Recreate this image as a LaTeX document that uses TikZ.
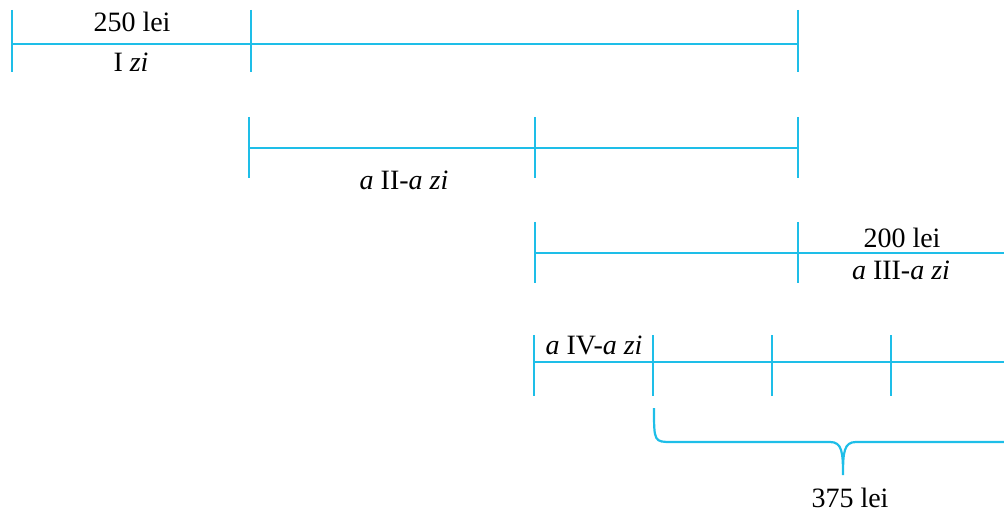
\documentclass[tikz,border=0pt]{standalone}
\usepackage{fontspec}
\setmainfont{Liberation Serif}
\definecolor{seg}{RGB}{30,190,232}
\begin{document}
\begin{tikzpicture}[x=1pt,y=-1pt,
  seg/.style={draw=seg,line width=2.6pt},
  lbl/.style={inner sep=0pt,anchor=center,font=\fontsize{28}{30}\selectfont}]
\useasboundingbox (0,0) rectangle (1004,513);
% row 1
\coordinate (a1) at (12,44); \coordinate (a2) at (251,44); \coordinate (a3) at (798,44);
\draw[seg] (a1) -- (a3);
\foreach \p in {a1,a2,a3} \draw[seg] ([yshift=34pt]\p) -- ([yshift=-28pt]\p);
\node[lbl] (t250) at (132,22) {250 lei};
\node[lbl] (tI) at (131,62) {I \textit{zi}};
% row 2
\coordinate (b1) at (249,148); \coordinate (b2) at (535,148); \coordinate (b3) at (798,148);
\draw[seg] (b1) -- (b3);
\foreach \p in {b1,b2,b3} \draw[seg] ([yshift=31pt]\p) -- ([yshift=-30pt]\p);
\node[lbl] (tII) at (404,180) {\textit{a} II-\textit{a zi}};
% row 3
\coordinate (c1) at (535,253); \coordinate (c2) at (798,253); \coordinate (c3) at (1004,253);
\draw[seg] (c1) -- (c3);
\foreach \p in {c1,c2} \draw[seg] ([yshift=31pt]\p) -- ([yshift=-30pt]\p);
\node[lbl] (t200) at (902,238) {200 lei};
\node[lbl] (tIII) at (901,270) {\textit{a} III-\textit{a zi}};
% row 4
\coordinate (d1) at (534,362); \coordinate (d2) at (653,362); \coordinate (d3) at (772,362);
\coordinate (d4) at (891,362); \coordinate (d5) at (1004,362);
\draw[seg] (d1) -- (d5);
\foreach \p in {d1,d2,d3,d4} \draw[seg] ([yshift=27pt]\p) -- ([yshift=-34pt]\p);
\node[lbl] (tIV) at (594,345) {\textit{a} IV-\textit{a zi}};
% brace
\coordinate (br0) at (654,408);
\coordinate (brtip) at (843,475);
\coordinate (brend) at (1006,442);
\draw[draw=seg,line width=2.2pt] (br0) .. controls (654,442) .. (672,442) -- (830,442)
  .. controls (842,442) and (843,452) .. (brtip)
  .. controls (843,452) and (844,442) .. (856,442) -- (brend);
\node[lbl] (t375) at (850,498) {375 lei};
\end{tikzpicture}
\end{document}
